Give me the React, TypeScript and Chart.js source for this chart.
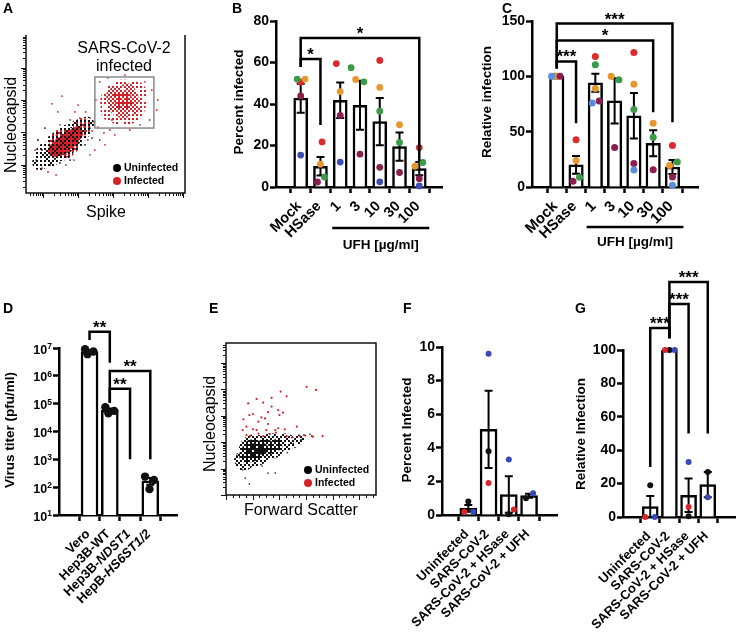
import React, { useEffect, useRef } from "react";
import { Chart, registerables } from "chart.js";

Chart.register(...registerables);

const FONT = '"Liberation Sans", Arial, Helvetica, sans-serif';
const W = 739;
const H = 634;

const RED = "#dc2a2e";
const GREEN = "#3d9a48";
const ORANGE = "#e8962e";
const MAROON = "#8a1f4e";
const BLUE_B = "#3d4db3";
const BLUE_C = "#5a8edc";
const F_RED = "#d9262c";
const F_BLUE = "#3a47b6";
const F_BLACK = "#111111";
const FLOW_RED = "#d4222a";

// ================= DATA =================
// ---- Panel A (flow: Spike vs Nucleocapsid, log decades) ----
const aUninfOuter = [
  { x: 0.63, y: 1.18, r: 13 }, { x: 0.97, y: 1.45, r: 15 }, { x: 1.26, y: 1.7, r: 14 },
  { x: 1.54, y: 1.95, r: 11 }, { x: 0.4, y: 0.95, r: 8 }, { x: 1.75, y: 2.15, r: 7 },
];
const aUninfCore = [
  { x: 0.8, y: 1.3, r: 9 }, { x: 1.06, y: 1.52, r: 11 }, { x: 1.31, y: 1.73, r: 10 },
  { x: 1.54, y: 1.92, r: 7 }, { x: 0.6, y: 1.15, r: 7 },
];
const aInfMixOuter = [{ x: 1.1, y: 1.55, r: 15 }, { x: 1.6, y: 2.05, r: 9 }];
const aInfMixCore = [
  { x: 1.03, y: 1.46, r: 9 }, { x: 1.26, y: 1.64, r: 9 }, { x: 1.43, y: 1.83, r: 7 }, { x: 0.83, y: 1.33, r: 7 },
];
const aInfGateOuter = [{ x: 2.78, y: 2.8, r: 23 }, { x: 2.45, y: 2.55, r: 11 }, { x: 3.1, y: 3.1, r: 12 }];
const aInfGateMid = [
  { x: 2.78, y: 2.82, r: 16 }, { x: 2.55, y: 3.0, r: 9 }, { x: 3.05, y: 2.7, r: 9 }, { x: 2.9, y: 3.15, r: 8 },
];
const aInfGateCore = [{ x: 2.8, y: 2.85, r: 9 }, { x: 2.65, y: 2.95, r: 6 }];
const aInfDots = [
  [1.71, 2.51], [1.83, 2.32], [1.94, 2.2], [2.06, 2.04], [1.89, 1.92], [1.66, 2.04], [2.11, 1.64], [2.23, 1.86],
  [1.77, 1.64], [1.54, 2.32], [1.4, 2.51], [1.26, 2.26], [0.91, 2.51], [0.74, 2.76], [1.49, 2.72], [2.4, 1.95],
  [2.54, 1.8], [3.54, 2.26], [3.6, 3.19], [3.77, 2.88], [3.74, 2.57], [3.4, 3.44], [2.11, 3.44], [2.0, 2.88],
  [2.34, 3.56], [0.63, 0.65], [0.86, 0.56], [0.46, 0.77], [1.14, 0.87], [1.37, 1.02], [1.97, 1.33], [1.83, 1.18],
  [0.26, 1.33], [0.97, 2.11], [2.97, 1.95], [3.26, 2.11], [2.26, 1.49], [1.03, 3.0], [2.46, 2.26], [2.83, 3.65],
];
const aUninfDots = [
  [0.34, 1.64], [0.46, 1.33], [0.29, 1.02], [1.83, 2.01], [1.89, 1.7], [0.54, 2.01], [1.69, 1.49], [1.26, 1.02],
  [0.69, 0.87], [0.97, 0.93],
];
const aGate = [1.97, 3.66, 2.01, 3.59];

// ---- Panel B ----
const bLabels = ["Mock", "HSase", "1", "3", "10", "30", "100"];
const bMeans = [42.8, 10.0, 41.8, 39.4, 31.5, 19.5, 8.9];
const bSem = [7.0, 4.4, 8.6, 11.8, 11.4, 6.8, 3.2];
const bRed = [50.6, 21.7, 59.5, null, 61.0, null, 19.0];
const bGreen = [52.0, 4.8, 57.5, 50.7, 36.5, 21.5, 11.8];
const bOrange = [52.0, 11.0, 46.0, 51.8, 48.0, 30.0, 10.0];
const bMaroon = [43.9, 2.4, 34.5, 15.8, 9.5, 7.0, 4.0];
const bBlue = [15.4, null, 12.0, null, 2.5, null, 0.5];
const bJitRed = [0, 0.08, -0.2, 0, 0, 0, 0];
const bJitGreen = [-0.18, 0.2, 0.55, 0.2, 0, 0, 0.18];
const bJitOrange = [0.22, 0, 0, -0.22, 0, 0, -0.22];
const bJitMaroon = [0, -0.15, 0, 0, 0, 0, 0];
const bJitBlue = [0, 0, 0, 0, 0, 0, 0];
const bBrackets = [
  [0, 1, 61.7, 57.8, 29.9, "*"],
  [0, 6, 71.8, 57.8, 12.5, "*"],
];

// ---- Panel C ----
const cLabels = ["Mock", "HSase", "1", "3", "10", "30", "100"];
const cMeans = [100, 20.0, 94.2, 77.8, 64.4, 39.5, 18.0];
const cSem = [0, 8.0, 8.2, 20.5, 20.5, 11.8, 6.3];
const cRed = [100, 42.8, 118, null, 121.5, null, 37.5];
const cGreen = [100, 8.7, 110.5, 97, 70, 45, 22.5];
const cOrange = [100, 24, 89, 100, 92.8, 57.5, 19.5];
const cMaroon = [100, 5.2, 77.7, 35.8, 21.3, 15.6, 9];
const cBlue = [100, null, 76, null, 15.3, null, 1.5];
const cJitRed = [0, 0, 0, 0, 0, 0, 0];
const cJitGreen = [-0.13, 0.18, 0, 0.22, 0, 0, 0.25];
const cJitOrange = [0, 0, 0, -0.18, 0, 0, -0.15];
const cJitMaroon = [0.17, -0.16, 0.2, 0, 0, 0, 0];
const cJitBlue = [-0.27, 0, -0.16, 0, 0, 0, 0];
const cBrackets = [
  [0, 1, 113.5, 107, 57.7, "***"],
  [0, 5, 132.4, 107, 67.6, "*"],
  [0, 6, 147.7, 107, 58.6, "***"],
];

// ---- Panel D (virus titer, pfu/ml) ----
const dLabels = [
  [{ t: "Vero" }],
  [{ t: "Hep3B-WT" }],
  [{ t: "Hep3B-" }, { t: "NDST1", i: true }],
  [{ t: "HepB-" }, { t: "HS6ST1/2", i: true }],
];
const dMeans = [7.5e6, 5.8e4, null, 168];
const dSem = [0.9e6, 0.9e4, null, 45];
const dRep1 = [9.0e6, 7.5e4, null, 240];
const dRep2 = [6.0e6, 4.5e4, null, 85];
const dRep3 = [7.5e6, 5.5e4, null, 180];
const dJit1 = [-0.22, -0.22, 0, -0.26];
const dJit2 = [-0.1, -0.07, 0, -0.04];
const dJit3 = [0.19, 0.22, 0, 0.18];
const dDecades = [1, 2, 3, 4, 5, 6, 7];
const dBrackets = [
  [0, 1, 3.8e7, 1.95e7, 2.95e6, "**"],
  [1, 3, 1.5e6, 1.07e5, 1000, "**"],
  [1, 2, 3.4e5, 1.07e5, 1000, "**"],
];

// ---- Panel E (flow: Forward scatter vs Nucleocapsid) ----
const eUninfOuter = [
  { x: 48, y: 1.7, r: 16 }, { x: 75, y: 1.85, r: 13 }, { x: 100, y: 2.0, r: 9 },
  { x: 30, y: 1.3, r: 10 }, { x: 122, y: 2.1, r: 5 },
];
const eUninfCore = [{ x: 45, y: 1.7, r: 11 }, { x: 65, y: 1.8, r: 9 }, { x: 35, y: 1.5, r: 8 }, { x: 85, y: 1.9, r: 6 }];
const eUninfInner = [{ x: 45, y: 1.7, r: 7 }, { x: 60, y: 1.75, r: 6 }];
const eInfDots = [
  [134.5, 4.1], [150, 3.98], [91, 3.92], [101, 3.74], [76, 3.68], [51, 3.64], [37, 3.47], [62, 3.5],
  [87, 3.22], [95, 3.12], [89, 3.03], [39, 3.03], [45, 3.07], [59, 2.94], [29, 2.87], [54, 2.78],
  [70, 2.69], [118, 2.59], [34, 2.59], [28, 2.46], [45, 2.49], [51, 2.46], [67, 2.46], [82, 2.46],
  [87, 2.53], [98, 2.49], [34, 2.27], [40, 2.23], [54, 2.33], [62, 2.23], [73, 2.31], [83, 2.36],
  [101, 2.23], [110, 2.18], [123, 2.23], [130, 2.27], [143, 2.23], [145, 2.21], [161, 2.23], [70, 3.14],
  [76, 3.35], [65, 2.9],
];
const eUninfDots = [
  [28, 0.95], [32, 0.64], [39, 0.42], [70, 0.83], [82, 0.83], [125, 2.1], [132, 2.25], [112, 1.95],
  [18, 1.5], [16, 1.2], [102, 1.6], [115, 1.8], [140, 2.3], [60, 1.1], [25, 1.75],
];

// ---- Panel F ----
const fLabels = ["Uninfected", "SARS-CoV-2", "SARS-CoV-2 + HSase", "SARS-CoV-2 + UFH"];
const fMeans = [0.4, 5.1, 1.22, 1.15];
const fSem = [0.2, 2.3, 1.08, 0.12];
const fBlack = [0.8, 3.8, 0.05, 1.0];
const fRed = [0.2, 1.9, 0.33, null];
const fBlue = [0.2, 9.6, 3.3, 1.3];
const fJitBlack = [0, 0, 0, -0.15];
const fJitRed = [-0.2, 0, 0.25, 0];
const fJitBlue = [0.25, 0, 0, 0.2];

// ---- Panel G ----
const gLabels = ["Uninfected", "SARS-CoV-2", "SARS-CoV-2 + HSase", "SARS-CoV-2 + UFH"];
const gMeans = [6.3, 100, 13.0, 19.4];
const gSem = [6.3, 0, 10.0, 7.6];
const gBlack = [19, 100, 0.5, 27];
const gRed = [0, 100, 6, null];
const gBlue = [0, 100, 33, 11.8];
const gJitBlack = [0, 0, 0, 0];
const gJitRed = [-0.26, -0.23, 0, 0];
const gJitBlue = [0.24, 0.28, 0, 0];
const gBrackets = [
  [0, 1, 113.2, 30, 107, "***"],
  [1, 2, 127.5, 107, 50, "***"],
  [1, 3, 140.7, 107, 50, "***"],
];

// ================= HELPERS =================
// ordered-dither (Bayer 8x8) stipple texture, 2x2 px cells
const BAYER = [
  [0, 32, 8, 40, 2, 34, 10, 42],
  [48, 16, 56, 24, 50, 18, 58, 26],
  [12, 44, 4, 36, 14, 46, 6, 38],
  [60, 28, 52, 20, 62, 30, 54, 22],
  [3, 35, 11, 43, 1, 33, 9, 41],
  [51, 19, 59, 27, 49, 17, 57, 25],
  [15, 47, 7, 39, 13, 45, 5, 37],
  [63, 31, 55, 23, 61, 29, 53, 21],
];

function stipple(color: string, lo: number, hi: number) {
  const c = document.createElement("canvas");
  c.width = 16;
  c.height = 16;
  const g = c.getContext("2d")!;
  g.fillStyle = color;
  for (let j = 0; j < 8; j++) {
    for (let i = 0; i < 8; i++) {
      const v = BAYER[j][i];
      if (v >= lo && v < hi) g.fillRect(i * 2, j * 2, 2, 2);
    }
  }
  return g.createPattern(c, "repeat");
}

function logTicks(majors: number[], min: number, max: number) {
  const out: { v: number; len: number }[] = [];
  const starts = [majors[0] - 1, ...majors];
  starts.forEach((m, idx) => {
    if (idx > 0) out.push({ v: m, len: 5 });
    for (let k = 2; k <= 9; k++) out.push({ v: m + Math.log10(k), len: 3 });
  });
  return out.filter((t) => t.v >= min && t.v <= max);
}

function rotText(ctx: any, text: string, cx: number, cy: number, font: string) {
  ctx.save();
  ctx.translate(cx, cy);
  ctx.rotate(-Math.PI / 2);
  ctx.font = font;
  ctx.textAlign = "center";
  ctx.textBaseline = "middle";
  ctx.fillStyle = "#000";
  ctx.fillText(text, 0, 0);
  ctx.restore();
}

function drawRotLabel(ctx: any, parts: any[], x: number, y: number, size: number) {
  ctx.save();
  ctx.translate(x, y);
  ctx.rotate(-Math.PI / 4);
  ctx.textBaseline = "middle";
  ctx.textAlign = "left";
  ctx.fillStyle = "#000";
  const fonts = parts.map((p) => `${p.i ? "italic " : ""}bold ${size}px ${FONT}`);
  const widths = parts.map((p, k) => {
    ctx.font = fonts[k];
    return ctx.measureText(p.t).width;
  });
  let cx = -widths.reduce((a, b) => a + b, 0);
  parts.forEach((p, k) => {
    ctx.font = fonts[k];
    ctx.fillText(p.t, cx, 0);
    cx += widths[k];
  });
  ctx.restore();
}

// ================= BAR PANELS =================
function barPanelConfig(p: any) {
  const datasets: any[] = [
    {
      type: "bar",
      data: p.means.map((m: any, i: number) => (m == null ? null : { x: i, y: m })).filter(Boolean),
      backgroundColor: "#ffffff",
      borderColor: "#000000",
      borderWidth: 2.5,
      barThickness: p.barW,
      order: 20,
    },
  ];
  p.series.forEach((s: any, k: number) => {
    datasets.push({
      type: "scatter",
      data: s.values
        .map((v: any, i: number) => (v == null ? null : { x: i + s.jitter[i], y: v }))
        .filter(Boolean),
      backgroundColor: s.color,
      borderColor: s.color,
      borderWidth: 0,
      pointRadius: p.ptR,
      order: 10 - k,
      clip: false,
    });
  });
  const tickGrid = { drawOnChartArea: false, drawTicks: true, tickLength: 6, tickWidth: 2.5, tickColor: "#000" };
  const border = { display: true, width: 2.5, color: "#000" };
  const yScale: any = {
    type: p.yType,
    min: p.yMin,
    max: p.yMax,
    grid: tickGrid,
    border,
    ticks: {
      display: !p.customY,
      stepSize: p.yStep,
      color: "#000",
      padding: 1,
      font: { family: FONT, size: p.yFont, weight: "bold" },
    },
    afterFit: (s: any) => {
      s.width = 50;
    },
  };
  if (p.customY) {
    yScale.afterBuildTicks = (s: any) => {
      s.ticks = p.customY.map((n: number) => ({ value: Math.pow(10, n) }));
    };
  }
  const xScale: any = {
    type: "linear",
    min: p.xMin,
    max: p.xMax,
    grid: tickGrid,
    border,
    ticks: { display: false },
    afterBuildTicks: (s: any) => {
      s.ticks = p.labels.map((_: any, i: number) => ({ value: i }));
    },
    afterFit: (s: any) => {
      s.height = 30;
    },
  };
  const plugin = {
    id: "bars" + p.id,
    afterDatasetDraw(chart: any, args: any) {
      if (args.index !== 0) return;
      const { ctx } = chart;
      const x = chart.scales.x;
      const y = chart.scales.y;
      ctx.save();
      ctx.strokeStyle = "#000";
      ctx.lineWidth = 2;
      p.means.forEach((m: any, i: number) => {
        const e = p.sem[i];
        if (m == null || !e) return;
        const px = x.getPixelForValue(i);
        const yHi = y.getPixelForValue(m + e);
        const yLo = y.getPixelForValue(m - e);
        ctx.beginPath();
        ctx.moveTo(px, yLo);
        ctx.lineTo(px, yHi);
        ctx.moveTo(px - 4, yHi);
        ctx.lineTo(px + 4, yHi);
        ctx.moveTo(px - 4, yLo);
        ctx.lineTo(px + 4, yLo);
        ctx.stroke();
      });
      ctx.restore();
    },
    afterDraw(chart: any) {
      const { ctx, chartArea } = chart;
      const x = chart.scales.x;
      const y = chart.scales.y;
      ctx.save();
      // x labels
      p.labels.forEach((parts: any, i: number) => {
        drawRotLabel(ctx, parts, x.getPixelForValue(i) - 1.5, chartArea.bottom + 17, p.labelFont);
      });
      // custom log y labels
      if (p.customY) {
        ctx.fillStyle = "#000";
        ctx.textAlign = "right";
        ctx.textBaseline = "alphabetic";
        p.customY.forEach((n: number) => {
          const py = y.getPixelForValue(Math.pow(10, n));
          const right = chartArea.left - 7;
          ctx.font = `bold 8.5px ${FONT}`;
          const ew = ctx.measureText(String(n)).width;
          ctx.fillText(String(n), right, py + 1);
          ctx.font = `bold 12.5px ${FONT}`;
          ctx.fillText("10", right - ew, py + 5.5);
        });
      }
      // y title
      rotText(ctx, p.yTitle, p.yTitlePos[0], p.yTitlePos[1], `bold 13.5px ${FONT}`);
      // brackets
      ctx.strokeStyle = "#000";
      ctx.lineWidth = 2.5;
      ctx.lineJoin = "miter";
      ctx.lineCap = "butt";
      (p.brackets || []).forEach((b: any) => {
        const [i0, i1, top, l0, l1, label] = b;
        const x0 = x.getPixelForValue(i0);
        const x1 = x.getPixelForValue(i1);
        const yt = y.getPixelForValue(top);
        ctx.beginPath();
        ctx.moveTo(x0, y.getPixelForValue(l0));
        ctx.lineTo(x0, yt);
        ctx.lineTo(x1, yt);
        ctx.lineTo(x1, y.getPixelForValue(l1));
        ctx.stroke();
        ctx.fillStyle = "#000";
        ctx.font = `bold 17px ${FONT}`;
        ctx.textAlign = "center";
        ctx.textBaseline = "alphabetic";
        ctx.fillText(label, (x0 + x1) / 2, yt + 1);
      });
      // UFH group line
      if (p.ufh) {
        const u = p.ufh;
        const x0 = x.getPixelForValue(u.from) - u.padL;
        const x1 = x.getPixelForValue(u.to) + u.padR;
        const ly = chartArea.bottom + u.dy;
        ctx.beginPath();
        ctx.moveTo(x0, ly);
        ctx.lineTo(x1, ly);
        ctx.stroke();
        ctx.font = `bold 13.5px ${FONT}`;
        ctx.textAlign = "center";
        ctx.textBaseline = "middle";
        ctx.fillText("UFH [µg/ml]", (x0 + x1) / 2, chartArea.bottom + u.textDy);
      }
      ctx.restore();
    },
  };
  return {
    type: "bar",
    data: { datasets },
    options: {
      responsive: false,
      animation: false,
      events: [],
      layout: {
        padding: {
          left: p.area.left - 50,
          top: p.area.top,
          right: W - p.area.right,
          bottom: H - p.area.bottom - 30,
        },
      },
      plugins: { legend: { display: false }, tooltip: { enabled: false } },
      scales: { x: xScale, y: yScale },
    },
    plugins: [plugin],
  };
}

// ================= FLOW PANELS =================
function flowConfig(f: any) {
  const datasets: any[] = f.layers.map((L: any, i: number) => ({
    type: "bubble",
    data: L.data,
    backgroundColor: stipple(L.color, L.lo, L.hi),
    borderWidth: 0,
    hoverRadius: 0,
    order: 100 - i,
    clip: false,
  }));
  f.dots.forEach((D: any, i: number) => {
    datasets.push({
      type: "scatter",
      data: D.data.map(([x, y]: number[]) => ({ x, y })),
      backgroundColor: D.color,
      borderWidth: 0,
      pointRadius: D.r,
      order: 50 - i,
      clip: false,
    });
  });
  const plugin = {
    id: "flow" + f.id,
    afterDraw(chart: any) {
      const { ctx, chartArea: a } = chart;
      const x = chart.scales.x;
      const y = chart.scales.y;
      ctx.save();
      ctx.strokeStyle = "#111";
      ctx.lineWidth = 1.5;
      ctx.beginPath();
      if (f.box) {
        ctx.rect(a.left, a.top, a.right - a.left, a.bottom - a.top);
      } else {
        ctx.moveTo(a.left, a.top);
        ctx.lineTo(a.left, a.bottom);
        ctx.lineTo(a.right, a.bottom);
        ctx.lineTo(a.right, a.top);
      }
      ctx.stroke();
      ctx.lineWidth = 1;
      ctx.beginPath();
      f.yTicks.forEach((t: any) => {
        const py = Math.round(y.getPixelForValue(t.v)) + 0.5;
        ctx.moveTo(a.left, py);
        ctx.lineTo(a.left - t.len, py);
      });
      f.xTicks.forEach((t: any) => {
        const px = Math.round(x.getPixelForValue(t.v)) + 0.5;
        ctx.moveTo(px, a.bottom);
        ctx.lineTo(px, a.bottom + t.len);
      });
      ctx.stroke();
      if (f.gate) {
        const [gx0, gx1, gy0, gy1] = f.gate;
        ctx.strokeStyle = "#8a8a8a";
        ctx.lineWidth = 1.5;
        const px0 = x.getPixelForValue(gx0);
        const px1 = x.getPixelForValue(gx1);
        const py0 = y.getPixelForValue(gy1);
        const py1 = y.getPixelForValue(gy0);
        ctx.strokeRect(px0, py0, px1 - px0, py1 - py0);
      }
      ctx.fillStyle = "#000";
      ctx.textAlign = "center";
      ctx.textBaseline = "middle";
      ctx.font = `16px ${FONT}`;
      (f.texts || []).forEach((t: any) => ctx.fillText(t[0], t[1], t[2]));
      rotText(ctx, f.yTitle[0], f.yTitle[1], f.yTitle[2], `16px ${FONT}`);
      ctx.fillStyle = "#000";
      ctx.textAlign = "center";
      ctx.textBaseline = "middle";
      ctx.font = `16px ${FONT}`;
      ctx.fillText(f.xTitle[0], f.xTitle[1], f.xTitle[2]);
      // legend
      const [lx, ly] = f.legend;
      [
        ["Uninfected", "#000"],
        ["Infected", FLOW_RED],
      ].forEach(([label, col], k) => {
        ctx.fillStyle = col;
        ctx.beginPath();
        ctx.arc(lx, ly + k * 13, 4, 0, Math.PI * 2);
        ctx.fill();
        ctx.fillStyle = "#000";
        ctx.textAlign = "left";
        ctx.font = `bold 10.5px ${FONT}`;
        ctx.fillText(label, lx + 7, ly + k * 13 + 0.5);
      });
      ctx.restore();
    },
  };
  return {
    type: "bubble",
    data: { datasets },
    options: {
      responsive: false,
      animation: false,
      events: [],
      layout: {
        padding: { left: f.area.left, top: f.area.top, right: W - f.area.right, bottom: H - f.area.bottom },
      },
      plugins: { legend: { display: false }, tooltip: { enabled: false } },
      scales: {
        x: { type: "linear", display: false, min: f.xMin, max: f.xMax },
        y: { type: "linear", display: false, min: f.yMin, max: f.yMax },
      },
    },
    plugins: [plugin],
  };
}

function buildConfigs() {
  const aPanel = {
    id: "A",
    area: { left: 26, right: 185, top: 35, bottom: 193 },
    xMin: 0, xMax: 4.55, yMin: 0, yMax: 4.89,
    box: false,
    layers: [
      { data: aUninfOuter, color: "#111", lo: 0, hi: 18 },
      { data: aInfMixOuter, color: FLOW_RED, lo: 46, hi: 64 },
      { data: aUninfCore, color: "#111", lo: 0, hi: 26 },
      { data: aInfMixCore, color: FLOW_RED, lo: 22, hi: 64 },
      { data: aInfGateOuter, color: FLOW_RED, lo: 50, hi: 64 },
      { data: aInfGateMid, color: FLOW_RED, lo: 34, hi: 64 },
      { data: aInfGateCore, color: FLOW_RED, lo: 20, hi: 64 },
    ],
    dots: [
      { data: aUninfDots, color: "#111", r: 0.9 },
      { data: aInfDots, color: FLOW_RED, r: 0.9 },
    ],
    yTicks: logTicks([0.88, 1.88, 2.88, 3.88], 0, 4.89),
    xTicks: logTicks([0.5, 1.5, 2.5, 3.5, 4.5], 0, 4.55),
    gate: aGate,
    texts: [["SARS-CoV-2", 124, 49], ["infected", 124, 67]],
    yTitle: ["Nucleocapsid", 12, 125],
    xTitle: ["Spike", 106, 213],
    legend: [117, 168],
  };
  const eXTicks: { v: number; len: number }[] = [];
  for (let k = 0; k * 11.1 <= 250; k++) eXTicks.push({ v: k * 11.1, len: k % 4 === 0 ? 5 : 3 });
  const ePanel = {
    id: "E",
    area: { left: 226, right: 376, top: 343, bottom: 495 },
    xMin: 0, xMax: 250, yMin: 0, yMax: 5.76,
    box: true,
    layers: [
      { data: eUninfOuter, color: "#111", lo: 0, hi: 24 },
      { data: eUninfCore, color: "#111", lo: 0, hi: 44 },
      { data: eUninfInner, color: "#111", lo: 0, hi: 58 },
    ],
    dots: [
      { data: eUninfDots, color: "#111", r: 0.8 },
      { data: eInfDots, color: FLOW_RED, r: 1.1 },
    ],
    yTicks: logTicks([0, 1, 2, 3, 4, 5], 0, 5.76),
    xTicks: eXTicks,
    gate: null,
    texts: [],
    yTitle: ["Nucleocapsid", 211, 424],
    xTitle: ["Forward Scatter", 301, 511],
    legend: [308, 470],
  };
  const bPanel = {
    id: "B",
    area: { left: 276, right: 442, top: 21, bottom: 187 },
    xMin: -0.65, xMax: 6.55,
    yType: "linear", yMin: 0, yMax: 80, yStep: 20, yFont: 14,
    labels: bLabels.map((t) => [{ t }]), labelFont: 14.5,
    means: bMeans, sem: bSem,
    series: [
      { values: bRed, jitter: bJitRed, color: RED },
      { values: bGreen, jitter: bJitGreen, color: GREEN },
      { values: bOrange, jitter: bJitOrange, color: ORANGE },
      { values: bMaroon, jitter: bJitMaroon, color: MAROON },
      { values: bBlue, jitter: bJitBlue, color: BLUE_B },
    ],
    brackets: bBrackets, barW: 14, ptR: 3.4,
    yTitle: "Percent infected", yTitlePos: [239, 102],
    ufh: { from: 2, to: 6, padL: 8, padR: 10, dy: 41, textDy: 58 },
  };
  const cPanel = {
    id: "C",
    area: { left: 532, right: 698, top: 21, bottom: 187 },
    xMin: -0.67, xMax: 6.71,
    yType: "linear", yMin: 0, yMax: 150, yStep: 50, yFont: 14,
    labels: cLabels.map((t) => [{ t }]), labelFont: 15,
    means: cMeans, sem: cSem,
    series: [
      { values: cRed, jitter: cJitRed, color: RED },
      { values: cGreen, jitter: cJitGreen, color: GREEN },
      { values: cOrange, jitter: cJitOrange, color: ORANGE },
      { values: cMaroon, jitter: cJitMaroon, color: MAROON },
      { values: cBlue, jitter: cJitBlue, color: BLUE_C },
    ],
    brackets: cBrackets, barW: 14.5, ptR: 3.5,
    yTitle: "Relative infection", yTitlePos: [487, 102],
    ufh: { from: 2, to: 6, padL: 8.7, padR: 11, dy: 40, textDy: 55 },
  };
  const dPanel = {
    id: "D",
    area: { left: 59, right: 177, top: 348, bottom: 515 },
    xMin: -0.78, xMax: 3.59,
    yType: "logarithmic", yMin: 10, yMax: 1e7, yFont: 12.5,
    customY: dDecades,
    labels: dLabels, labelFont: 13,
    means: dMeans, sem: dSem,
    series: [
      { values: dRep1, jitter: dJit1, color: "#111" },
      { values: dRep2, jitter: dJit2, color: "#111" },
      { values: dRep3, jitter: dJit3, color: "#111" },
    ],
    brackets: dBrackets, barW: 17, ptR: 4.2,
    yTitle: "Virus titer (pfu/ml)", yTitlePos: [10, 430],
  };
  const fPanel = {
    id: "F",
    area: { left: 442, right: 557, top: 347, bottom: 515 },
    xMin: -0.59, xMax: 3.67,
    yType: "linear", yMin: 0, yMax: 10, yStep: 2, yFont: 14,
    labels: fLabels.map((t) => [{ t }]), labelFont: 13,
    means: fMeans, sem: fSem,
    series: [
      { values: fBlack, jitter: fJitBlack, color: F_BLACK },
      { values: fRed, jitter: fJitRed, color: F_RED },
      { values: fBlue, jitter: fJitBlue, color: F_BLUE },
    ],
    brackets: [], barW: 17, ptR: 3,
    yTitle: "Percent Infected", yTitlePos: [407, 430],
  };
  const gPanel = {
    id: "G",
    area: { left: 623, right: 737, top: 350, bottom: 517 },
    xMin: -0.69, xMax: 3.69,
    yType: "linear", yMin: 0, yMax: 100, yStep: 20, yFont: 14,
    labels: gLabels.map((t) => [{ t }]), labelFont: 13,
    means: gMeans, sem: gSem,
    series: [
      { values: gBlack, jitter: gJitBlack, color: F_BLACK },
      { values: gRed, jitter: gJitRed, color: F_RED },
      { values: gBlue, jitter: gJitBlue, color: F_BLUE },
    ],
    brackets: gBrackets, barW: 16, ptR: 3,
    yTitle: "Relative Infection", yTitlePos: [581, 434],
  };
  return [
    flowConfig(aPanel),
    barPanelConfig(bPanel),
    barPanelConfig(cPanel),
    barPanelConfig(dPanel),
    flowConfig(ePanel),
    barPanelConfig(fPanel),
    barPanelConfig(gPanel),
  ];
}

const LETTERS: [string, number, number][] = [
  ["A", 3, 1],
  ["B", 232, 1],
  ["C", 502, 1],
  ["D", 3, 301],
  ["E", 209, 301],
  ["F", 403, 301],
  ["G", 575, 301],
];

export default function App() {
  const refs = useRef<(HTMLCanvasElement | null)[]>([]);
  useEffect(() => {
    const cfgs = buildConfigs();
    const charts = cfgs.map((cfg, i) => new Chart(refs.current[i] as HTMLCanvasElement, cfg as any));
    return () => charts.forEach((c) => c.destroy());
  }, []);
  return (
    <div
      style={{
        position: "absolute",
        left: 0,
        top: 0,
        width: W,
        height: H,
        background: "#fff",
        overflow: "hidden",
        fontFamily: FONT,
      }}
    >
      {Array.from({ length: 7 }).map((_, i) => (
        <canvas
          key={i}
          ref={(el) => {
            refs.current[i] = el;
          }}
          width={W}
          height={H}
          style={{ position: "absolute", left: 0, top: 0, width: W, height: H }}
        />
      ))}
      {LETTERS.map(([t, x, y]) => (
        <div
          key={t}
          style={{
            position: "absolute",
            left: x,
            top: y,
            font: `bold 14px ${FONT}`,
            lineHeight: "14px",
            color: "#000",
          }}
        >
          {t}
        </div>
      ))}
    </div>
  );
}
